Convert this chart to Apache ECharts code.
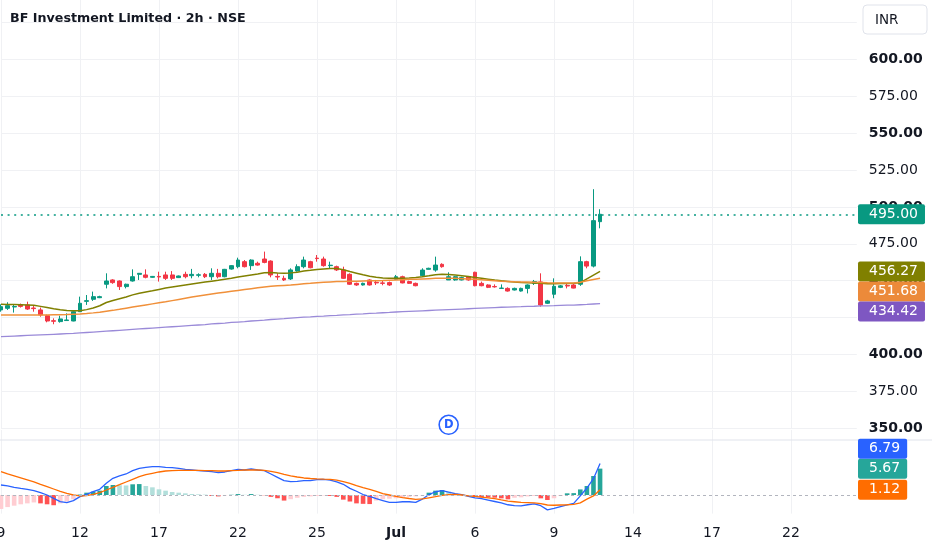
<!DOCTYPE html>
<html><head><meta charset="utf-8">
<script src="https://cdn.jsdelivr.net/npm/echarts@6/dist/echarts.min.js"></script>
<style>html,body{margin:0;padding:0;background:#fff}#c{width:932px;height:550px}</style>
</head><body><div id="c"></div>
<script>
// ---------- data ----------
const chartTitle = 'BF Investment Limited · 2h · NSE';
const currency = 'INR';
const barCount = 131; // visible bar slots (incl. empty future space)
const tickLabels = {0:'9',12:'12',24:'17',36:'22',48:'25',60:'Jul',72:'6',84:'9',96:'14',108:'17',120:'22'};

// candles: [open, close, low, high]
const candles = [
[430.2,432.4,429.0,434.0],[431.3,433.1,430.2,435.4],[432.2,432.5,428.4,434.0],[433.6,432.6,431.8,434.5],
[433.6,430.8,430.2,435.8],[431.5,431.1,429.0,433.1],[430.2,426.8,425.6,431.8],[426.3,422.7,421.8,427.0],
[422.9,422.5,420.5,424.5],[422.3,424.1,421.6,426.3],[423.0,423.4,422.7,427.9],[422.7,429.0,422.5,429.5],
[429.0,434.7,429.0,439.2],[436.0,436.5,433.6,440.3],[437.4,439.2,436.3,442.6],[438.5,439.2,438.2,439.8],
[447.6,449.8,444.8,455.0],[450.5,448.7,447.9,451.0],[449.8,446.0,443.7,450.2],[446.0,447.6,444.8,448.0],
[449.8,452.7,449.4,457.7],[454.3,455.0,450.5,455.2],[453.9,452.3,451.6,457.7],[452.3,452.9,452.0,453.2],
[452.9,452.5,449.4,456.1],[453.9,451.6,450.5,456.1],[453.9,451.6,450.5,456.5],[452.1,453.2,451.8,453.5],
[454.3,452.7,451.6,456.1],[453.4,454.3,451.6,458.0],[453.7,454.0,452.3,455.0],[454.3,452.7,451.8,455.2],
[452.7,455.0,450.5,458.4],[455.0,452.7,451.6,458.0],[452.7,457.7,452.3,458.0],[457.9,460.2,457.5,460.5],
[459.5,464.0,458.4,465.6],[462.9,459.5,459.0,464.0],[460.2,464.0,457.3,464.5],[461.8,460.6,460.2,462.9],
[464.7,462.4,461.8,469.7],[463.3,453.9,452.3,463.8],[452.9,452.5,450.5,455.0],[451.6,450.5,449.8,453.4],
[451.2,457.3,450.5,458.4],[456.6,459.5,456.1,461.1],[459.5,464.0,458.4,466.3],[462.9,458.8,458.4,463.5],
[465.3,465.0,462.9,467.4],[464.7,460.2,459.5,466.3],[460.2,460.5,458.4,462.9],[459.5,457.3,456.6,460.2],
[457.3,451.6,451.2,459.5],[454.3,447.6,447.1,455.0],[448.2,447.1,446.5,448.7],[447.1,448.2,446.7,448.7],
[450.5,447.1,446.7,451.0],[448.9,448.5,447.1,450.5],[448.5,448.2,446.9,450.2],[448.7,447.1,446.5,449.4],
[450.9,452.7,450.5,453.9],[452.7,448.5,448.2,453.4],[449.4,448.2,447.8,450.0],[448.2,446.6,446.2,448.7],
[453.4,457.2,452.7,458.4],[457.7,458.4,457.5,458.8],[457.2,460.6,456.1,466.3],[461.1,459.5,458.8,461.8],
[450.5,452.7,450.5,455.7],[450.5,452.7,450.0,453.2],[450.5,452.1,450.2,452.7],[452.7,450.5,450.0,453.2],
[455.7,446.6,446.2,456.1],[448.2,446.6,446.2,449.4],[447.1,445.5,445.0,447.6],[446.1,445.8,445.3,447.5],
[444.8,445.0,444.4,447.5],[444.8,443.0,442.6,445.5],[443.7,444.8,443.4,445.3],[443.0,444.8,442.6,445.3],
[444.8,447.1,441.4,447.5],[448.2,449.4,447.1,450.5],[449.2,433.5,432.4,455.0],[434.7,436.3,434.2,437.0],
[440.8,446.2,438.1,451.6],[445.5,446.5,445.0,447.1],[446.8,446.4,444.8,448.2],[447.1,445.0,444.8,448.2],
[447.6,462.9,446.5,466.5],[462.9,459.9,458.4,463.5],[459.9,490.7,459.0,512.0],[490.0,495.0,485.5,498.4]
];

const emaFast = [
434.0,433.9,433.8,433.7,433.5,433.3,432.6,431.8,431.0,430.3,429.8,429.6,429.7,430.4,431.5,433.0,
435.2,436.6,437.8,439.0,440.4,441.5,442.4,443.2,444.1,445.0,445.7,446.4,447.1,447.8,448.5,449.1,
449.7,450.3,451.0,451.7,452.5,453.2,453.9,454.6,455.4,455.6,455.2,455.0,455.3,455.8,456.5,457.0,
457.6,458.0,458.3,458.2,457.4,456.2,455.1,454.0,453.0,452.4,451.9,451.6,451.6,451.7,451.9,452.2,
452.7,453.3,454.0,454.4,454.2,453.8,453.3,452.8,452.2,451.6,451.0,450.4,449.9,449.5,449.1,448.8,
448.6,448.5,448.2,448.0,448.0,448.1,448.1,448.2,448.6,451.2,453.8,456.27];

const emaSlow = [
426.8,426.8,426.8,426.8,426.8,426.8,426.8,426.8,426.9,427.0,427.1,427.3,427.5,427.8,428.2,428.7,
429.3,429.9,430.6,431.4,432.2,432.9,433.6,434.3,435.0,435.7,436.5,437.3,438.1,438.9,439.6,440.3,
441.0,441.6,442.2,442.8,443.4,444.0,444.6,445.2,445.8,446.2,446.5,446.8,447.1,447.5,447.9,448.2,
448.6,448.9,449.2,449.4,449.5,449.6,449.7,449.8,449.9,450.0,450.1,450.3,450.5,450.7,450.9,451.0,
451.2,451.4,451.6,451.7,451.7,451.6,451.4,451.2,450.9,450.6,450.3,450.0,449.7,449.5,449.3,449.2,
449.1,449.0,448.8,448.6,448.5,448.5,448.5,448.5,448.9,449.9,450.8,451.68];

const maLong = [
412.1,412.3,412.5,412.7,412.9,413.1,413.3,413.5,413.7,413.9,414.1,414.3,414.6,414.9,415.2,415.5,
415.8,416.1,416.4,416.7,417.0,417.3,417.6,417.9,418.2,418.5,418.8,419.1,419.4,419.7,420.0,420.3,
420.7,421.0,421.3,421.7,422.0,422.3,422.7,423.0,423.3,423.7,424.0,424.3,424.7,425.0,425.3,425.5,
425.8,426.0,426.3,426.5,426.8,427.0,427.3,427.5,427.8,428.0,428.3,428.5,428.8,429.0,429.2,429.4,
429.6,429.8,430.0,430.2,430.4,430.6,430.8,431.0,431.2,431.4,431.6,431.8,432.0,432.1,432.3,432.4,
432.6,432.7,432.9,433.0,433.1,433.3,433.4,433.5,433.7,433.9,434.2,434.42];

const macdLine = [
2.15,1.94,1.65,1.43,1.22,0.93,0.50,0.00,-0.72,-1.43,-1.65,-1.22,-0.36,0.14,0.72,1.22,
2.51,3.58,4.09,4.52,5.23,5.73,5.95,6.09,6.09,5.95,5.88,5.73,5.52,5.38,5.23,5.16,
5.02,4.80,4.95,5.23,5.52,5.38,5.59,5.38,5.23,4.52,3.80,3.08,2.87,2.94,3.10,3.10,
3.30,3.37,3.20,2.80,2.30,1.43,0.80,0.10,-0.30,-0.80,-1.20,-1.60,-1.60,-1.45,-1.45,-1.60,
-0.90,0.10,0.70,0.93,0.60,0.30,0.10,-0.30,-0.60,-0.80,-1.10,-1.40,-1.70,-2.10,-2.30,-2.35,
-2.10,-1.90,-2.30,-3.20,-2.90,-2.50,-2.10,-1.80,-0.20,1.50,3.50,6.79];

const signalLine = [
5.02,4.52,4.09,3.66,3.23,2.80,2.29,1.79,1.29,0.79,0.36,0.00,-0.21,-0.14,0.14,0.50,
1.08,1.65,2.22,2.80,3.37,3.94,4.37,4.66,4.95,5.16,5.23,5.30,5.30,5.30,5.30,5.23,
5.23,5.16,5.16,5.23,5.30,5.38,5.38,5.38,5.30,5.09,4.80,4.44,4.09,3.87,3.66,3.55,
3.45,3.40,3.37,3.20,2.90,2.50,2.00,1.60,1.22,0.80,0.30,0.00,-0.30,-0.55,-0.75,-0.93,
-0.85,-0.60,-0.36,-0.10,0.10,0.14,0.00,-0.20,-0.30,-0.45,-0.60,-0.80,-1.07,-1.30,-1.45,-1.60,
-1.65,-1.70,-1.85,-2.15,-2.20,-2.15,-2.10,-2.00,-1.70,-0.90,-0.20,1.12];

const histogram = [
-3.0,-2.6,-2.3,-2.0,-1.8,-1.6,-1.8,-2.0,-2.2,-1.8,-1.4,-0.9,0.1,0.5,0.72,0.93,
1.94,2.15,2.10,2.05,2.30,2.35,1.94,1.65,1.22,0.93,0.65,0.50,0.36,0.22,0.14,0.08,
-0.2,-0.3,-0.1,0.05,0.2,0.05,0.2,0.05,-0.05,-0.4,-0.7,-1.2,-0.9,-0.6,-0.4,-0.3,
-0.2,-0.1,-0.2,-0.4,-1.0,-1.4,-1.8,-1.9,-1.95,-1.2,-0.9,-0.8,-0.7,-0.6,-0.4,-0.3,
-0.1,0.5,0.93,1.08,0.72,0.2,0.05,-0.1,-0.36,-0.5,-0.52,-0.57,-0.72,-0.93,-0.6,-0.5,
-0.3,-0.2,-0.72,-1.07,-0.7,-0.2,0.36,0.4,1.2,1.94,4.09,5.67];

const lastPrice = 495.00;
const dividendBar = 68;

// ---------- styling ----------
const FONT = '"DejaVu Sans", sans-serif';
const TXT = '#131722';
const UP = '#089981', DOWN = '#f23645';
const C_FAST = '#808000', C_SLOW = '#f0903a', C_LONG = '#9a8ad8';
const C_MACD = '#2962ff', C_SIG = '#ff6d00';
const GRID_LINE = '#f0f1f4';

const categories = Array.from({length: barCount}, (_, i) => 'b' + i);
const isTick = i => tickLabels[i] !== undefined;

const histData = histogram.map((v, i) => {
  const prev = i > 0 ? histogram[i - 1] : v;
  let c;
  if (v >= 0) c = v > prev ? '#26a69a' : '#b2dfdb';
  else c = v < prev ? '#ff5252' : '#ffcdd2';
  return {value: v, itemStyle: {color: c}};
});

const chart = echarts.init(document.getElementById('c'), null, {renderer: 'canvas'});

const xBase = (gi, showLabels) => ({
  type: 'category', gridIndex: gi, data: categories, boundaryGap: false,
  axisLine: {show: false}, axisTick: {show: false},
  splitLine: {show: true, interval: (i) => isTick(i), lineStyle: {color: GRID_LINE, width: 1}},
  axisLabel: showLabels ? {
    show: true, interval: (i) => isTick(i), margin: 13,
    formatter: (v, i) => { const t = tickLabels[i]; if (t === undefined) return ''; return t === 'Jul' ? '{b|Jul}' : t; },
    color: TXT, fontSize: 14, fontFamily: FONT,
    rich: {b: {fontWeight: 'bold', fontSize: 14, fontFamily: FONT, color: TXT}}
  } : {show: false}
});

chart.setOption({
  animation: false,
  backgroundColor: '#ffffff',
  grid: [
    {left: 1, top: -14.5, width: 855.8, height: 442.8, outerBoundsMode: 'none', containLabel: false},
    {left: 1, top: 429.9, width: 855.8, height: 83.7, outerBoundsMode: 'none', containLabel: false}
  ],
  xAxis: [xBase(0, false), xBase(1, true)],
  yAxis: [
    {type: 'value', gridIndex: 0, position: 'right', min: 350, max: 650, interval: 25,
     axisLine: {show: false}, axisTick: {show: false},
     splitLine: {show: true, lineStyle: {color: GRID_LINE}},
     axisLabel: {margin: 12, color: TXT, fontSize: 14, fontFamily: FONT, showMaxLabel: false,
       formatter: v => (v % 50 === 0 ? '{b|' + v.toFixed(2) + '}' : v.toFixed(2)),
       rich: {b: {fontWeight: 'bold', fontSize: 14, fontFamily: FONT, color: TXT}}}},
    {type: 'value', gridIndex: 1, position: 'right', min: -4, max: 14,
     axisLine: {show: false}, axisTick: {show: false}, splitLine: {show: false}, axisLabel: {show: false}}
  ],
  series: [
    {type: 'candlestick', xAxisIndex: 0, yAxisIndex: 0, data: candles, barWidth: '66%',
     itemStyle: {color: UP, color0: DOWN, borderColor: UP, borderColor0: DOWN, borderWidth: 1},
     markLine: {silent: true, symbol: ['none', 'none'], label: {show: false},
       lineStyle: {color: UP, type: [2, 4.6], width: 1.6}, data: [{yAxis: lastPrice}]}},
    {type: 'line', xAxisIndex: 0, yAxisIndex: 0, data: emaFast, symbol: 'none', lineStyle: {color: C_FAST, width: 1.5}},
    {type: 'line', xAxisIndex: 0, yAxisIndex: 0, data: emaSlow, symbol: 'none', lineStyle: {color: C_SLOW, width: 1.5}},
    {type: 'line', xAxisIndex: 0, yAxisIndex: 0, data: maLong, symbol: 'none', lineStyle: {color: C_LONG, width: 1.3}},
    {type: 'bar', xAxisIndex: 1, yAxisIndex: 1, data: histData, barWidth: '70%',
     markLine: {silent: true, symbol: ['none', 'none'], label: {show: false},
       lineStyle: {color: '#b2b5be', type: [3, 3], width: 1}, data: [{yAxis: 0}]}},
    {type: 'line', xAxisIndex: 1, yAxisIndex: 1, data: macdLine, symbol: 'none', lineStyle: {color: C_MACD, width: 1.3}},
    {type: 'line', xAxisIndex: 1, yAxisIndex: 1, data: signalLine, symbol: 'none', lineStyle: {color: C_SIG, width: 1.3}}
  ]
});

// ---------- overlays (tags, title, markers) ----------
const TAG_H = 20;
const yPx = (axis, v) => chart.convertToPixel({yAxisIndex: axis}, v);
const xPx = (i) => chart.convertToPixel({xAxisIndex: 0}, i);
function tag(text, cy, bg) {
  return {type: 'text', x: 858, y: cy, z: 100,
    style: {text, fill: '#ffffff', backgroundColor: bg, padding: [3, 7, 3, 11],
      font: '14px ' + FONT, verticalAlign: 'middle', align: 'left', borderRadius: 2}};
}
const last = a => a[a.length - 1];

// price pane tags (push down to avoid overlap)
const maTags = [[last(emaFast), C_FAST], [last(emaSlow), '#ec8a3a'], [last(maLong), '#7e57c2']];
let prevBottom = -Infinity;
const maEls = maTags.map(([v, c]) => {
  let cy = yPx(0, v);
  if (cy - TAG_H / 2 < prevBottom) cy = prevBottom + TAG_H / 2;
  prevBottom = cy + TAG_H / 2;
  return tag(v.toFixed(2), cy, c);
});

// MACD pane tags (push up from the bottom)
const mTags = [[last(signalLine), C_SIG], [last(histogram), '#26a69a'], [last(macdLine), C_MACD]];
let prevTop = Infinity;
const mEls = mTags.map(([v, c]) => {
  let cy = yPx(1, v);
  if (cy + TAG_H / 2 > prevTop) cy = prevTop - TAG_H / 2;
  prevTop = cy - TAG_H / 2;
  return tag(v.toFixed(2), cy, c);
});

const gridBottom = yPx(0, 350);
chart.setOption({
  graphic: [
    {type: 'line', z: 50, shape: {x1: 0, y1: 440, x2: 932, y2: 440}, style: {stroke: '#e0e3eb', lineWidth: 1}},
    tag(lastPrice.toFixed(2), yPx(0, lastPrice), UP),
    ...maEls, ...mEls,
    {type: 'group', x: xPx(dividendBar), y: gridBottom - 3.5, z: 90, children: [
      {type: 'circle', shape: {cx: 0, cy: 0, r: 9.5}, style: {fill: '#ffffff', stroke: '#2962ff', lineWidth: 1.6}},
      {type: 'text', x: 0, y: 0.5, style: {text: 'D', fill: '#2962ff', font: 'bold 11.5px ' + FONT, align: 'center', verticalAlign: 'middle'}}
    ]},
    {type: 'rect', z: 100, shape: {x: 863, y: 5, width: 64, height: 29, r: 4}, style: {fill: '#ffffff', stroke: '#e0e3eb', lineWidth: 1}},
    {type: 'text', z: 101, x: 875, y: 20, style: {text: currency, fill: TXT, font: '13.5px ' + FONT, verticalAlign: 'middle'}},
    {type: 'text', z: 101, x: 10, y: 19, style: {text: chartTitle, fill: TXT, font: 'bold 12.7px ' + FONT, verticalAlign: 'middle'}}
  ]
});
</script>
</body></html>
